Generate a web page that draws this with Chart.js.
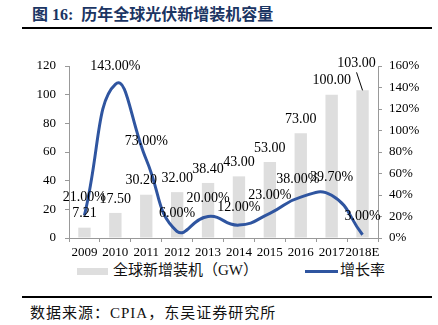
<!DOCTYPE html>
<html>
<head>
<meta charset="utf-8">
<script src="https://cdn.jsdelivr.net/npm/chart.js@4"></script>
<style>
  body { margin: 0; width: 438px; height: 325px; background: #fff; position: relative; overflow: hidden;
         font-family: "Liberation Serif", "Noto Sans CJK SC", serif; color: #000; }
  #title { position: absolute; left: 32px; top: 1px; font-size: 16px; font-weight: bold; color: #1b3563;
           font-family: "Liberation Serif", "Noto Sans CJK SC", serif; white-space: nowrap; }
  .rule { position: absolute; left: 22px; width: 410px; height: 2px; background: #000; }
  #chartWrap { position: absolute; left: 0; top: 0; width: 438px; height: 260px; }
  .legend { position: absolute; top: 260px; font-size: 15px; white-space: nowrap; line-height: 20px; color: #111; }
  .swatch-bar { display: inline-block; width: 31px; height: 7px; background: #dedede; vertical-align: middle; margin-right: 5px; }
  .swatch-line { display: inline-block; width: 33px; height: 3px; background: #2f55a0; vertical-align: middle; margin-right: 2px; }
  #footer { position: absolute; left: 30px; top: 303px; font-size: 15px; letter-spacing: 1px; white-space: nowrap; line-height: 20px; color: #111; }
</style>
</head>
<body>
<div id="title">图 16:&nbsp; 历年全球光伏新增装机容量</div>
<div class="rule" style="top:27px"></div>
<div id="chartWrap"><canvas id="chart" width="438" height="260"></canvas></div>
<div class="legend" style="left:77px"><span class="swatch-bar"></span>全球新增装机（GW）</div>
<div class="legend" style="left:305px"><span class="swatch-line"></span>增长率</div>
<div class="rule" style="top:296px"></div>
<div id="footer">数据来源：CPIA，东吴证券研究所</div>

<script>
// Datos del gráfico
const years = ['2009', '2010', '2011', '2012', '2013', '2014', '2015', '2016', '2017', '2018E'];
const capacity = [7.21, 17.5, 30.2, 32, 38.4, 43, 53, 73, 100, 103];
const growthRate = [21, 143, 73, 6, 20, 12, 23, 38, 39.7, 3];
const leftTicks = [0, 20, 40, 60, 80, 100, 120];
const rightTicks = [0, 20, 40, 60, 80, 100, 120, 140, 160];

const serif = 'Liberation Serif';

// Etiquetas de datos sobre barras y puntos
const dataLabels = {
  id: 'dataLabels',
  afterDatasetsDraw(chart) {
    const ctx = chart.ctx;
    ctx.save();
    ctx.font = '14px "' + serif + '"';
    ctx.fillStyle = '#000';
    ctx.textAlign = 'center';
    ctx.textBaseline = 'middle';

    const bars = chart.getDatasetMeta(0).data;
    bars.forEach((bar, i) => {
      const text = capacity[i].toFixed(2);
      if (i === bars.length - 1) {
        // etiqueta desplazada con línea guía
        const lx = bar.x - 6, ly = bar.y - 27;
        ctx.fillText(text, lx, ly);
        ctx.strokeStyle = '#000';
        ctx.lineWidth = 1;
        ctx.beginPath();
        ctx.moveTo(lx, ly + 9);
        ctx.lineTo(bar.x, bar.y);
        ctx.stroke();
      } else {
        const dx = i === 2 ? -5 : 0;
        ctx.fillText(text, bar.x + dx, bar.y - 14);
      }
    });

    const pts = chart.getDatasetMeta(1).data;
    pts.forEach((p, i) => {
      const dx = i === 7 ? -3 : 0;
      ctx.fillText(growthRate[i].toFixed(2) + '%', p.x + dx, p.y - 18);
    });
    ctx.restore();
  }
};

new Chart(document.getElementById('chart'), {
  data: {
    labels: years,
    datasets: [
      {
        type: 'bar',
        label: '全球新增装机（GW）',
        data: capacity,
        backgroundColor: '#dedede',
        borderWidth: 0,
        barPercentage: 0.4,
        categoryPercentage: 1,
        yAxisID: 'y',
        order: 2
      },
      {
        type: 'line',
        label: '增长率',
        data: growthRate,
        borderColor: '#2f55a0',
        borderWidth: 3,
        pointRadius: 0,
        tension: 0.5,
        fill: false,
        yAxisID: 'y1',
        order: 1
      }
    ]
  },
  options: {
    responsive: false,
    animation: false,
    layout: { padding: { top: 66, left: 0, right: 0, bottom: 0 } },
    plugins: {
      legend: { display: false },
      tooltip: { enabled: false }
    },
    scales: {
      x: {
        offset: true,
        grid: { display: true, offset: true, drawOnChartArea: false, tickLength: 4, color: '#999' },
        border: { color: '#999' },
        ticks: { font: { family: serif, size: 13 }, color: '#000', padding: 3, maxRotation: 0, autoSkip: false },
        afterFit: s => { s.height = 22; }
      },
      y: {
        position: 'left',
        min: leftTicks[0],
        max: leftTicks[leftTicks.length - 1],
        afterBuildTicks: s => { s.ticks = leftTicks.map(v => ({ value: v })); },
        grid: { drawOnChartArea: false, tickLength: 4, color: '#999' },
        border: { color: '#999' },
        ticks: { font: { family: serif, size: 13 }, color: '#000', padding: 9 },
        afterFit: s => { s.width = 69; }
      },
      y1: {
        position: 'right',
        min: rightTicks[0],
        max: rightTicks[rightTicks.length - 1],
        afterBuildTicks: s => { s.ticks = rightTicks.map(v => ({ value: v })); },
        grid: { drawOnChartArea: false, tickLength: 4, color: '#999' },
        border: { color: '#999' },
        ticks: { font: { family: serif, size: 13 }, color: '#000', padding: 7, callback: v => v + '%' },
        afterFit: s => { s.width = 60; }
      }
    }
  },
  plugins: [dataLabels]
});
</script>
</body>
</html>
